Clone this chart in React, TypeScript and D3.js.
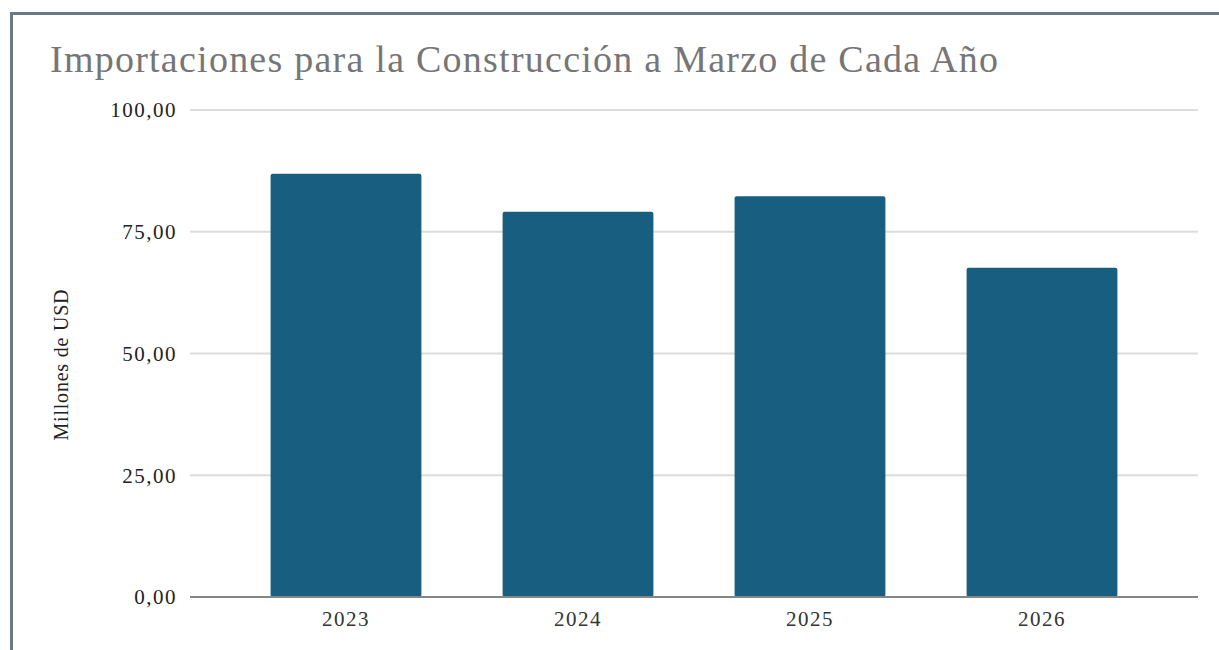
import React from "react";
import * as d3 from "d3";

const categories = ["2023", "2024", "2025", "2026"];
const values = [86.9, 79.1, 82.3, 67.6];
const yTicks = [0, 25, 50, 75, 100];
const title = "Importaciones para la Construcción a Marzo de Cada Año";
const yLabel = "Millones de USD";

export default function App() {
  const W = 1219, H = 650;
  const y = d3.scaleLinear().domain([0, 100]).range([597, 110]);
  const x = d3.scaleBand().domain(categories).range([230, 1158]).paddingInner(0.35).paddingOuter(0.175);
  const fmt = (v: number) => d3.format(".2f")(v).replace(".", ",");
  const font = "'Liberation Serif', 'Times New Roman', serif";
  return (
    <svg width={W} height={H} style={{ position: "absolute", left: 0, top: 0, background: "#fff" }}>
      <rect x={11.5} y={13.5} width={W + 10} height={H + 10} fill="none" stroke="#687a84" strokeWidth={3} />
      <text x={50} y={72} fontFamily={font} fontSize={38} fill="#767676" textLength={948} lengthAdjust="spacing">{title}</text>
      {yTicks.map((t) => (
        <g key={t}>
          {t !== 0 && <line x1={190} x2={1198} y1={y(t)} y2={y(t)} stroke="#dcdcdc" strokeWidth={2} />}
          <text x={177} y={y(t)} dy="0.35em" textAnchor="end" fontFamily={font} fontSize={21} letterSpacing={1.5} fill="#222">{fmt(t)}</text>
        </g>
      ))}
      <text transform={`translate(68,${365}) rotate(-90)`} textAnchor="middle" fontFamily={font} fontSize={20} fill="#222" textLength={151} lengthAdjust="spacing">{yLabel}</text>
      {categories.map((c, i) => (
        <rect key={c} x={x(c)} y={y(values[i])} width={x.bandwidth()} height={y(0) - y(values[i])} fill="#175e80" rx={2} />
      ))}
      <line x1={190} x2={1198} y1={y(0)} y2={y(0)} stroke="#858585" strokeWidth={2} />
      {categories.map((c) => (
        <text key={c} x={(x(c) as number) + x.bandwidth() / 2} y={626} textAnchor="middle" fontFamily={font} fontSize={21} letterSpacing={1.5} fill="#333">{c}</text>
      ))}
    </svg>
  );
}
